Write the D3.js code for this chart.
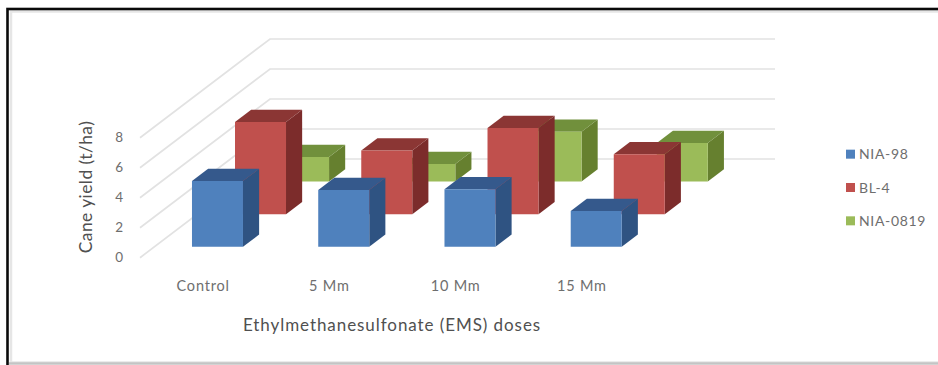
<!DOCTYPE html>
<html>
<head>
<meta charset="utf-8">
<title>Cane yield by EMS dose</title>
<script src="https://cdnjs.cloudflare.com/ajax/libs/d3/7.9.0/d3.min.js"></script>
<style>
  html, body { margin: 0; padding: 0; background: #fff; }
  svg { display: block; font-family: Lato, "Open Sans", sans-serif; }
</style>
</head>
<body>
<svg id="chart" width="938" height="365"></svg>
<script>
// Chart data
const categories = ["Control", "5 Mm", "10 Mm", "15 Mm"];
const seriesNames = ["NIA-98", "BL-4", "NIA-0819"];
const nia98 = [4.38, 3.78, 3.83, 2.38];
const bl4 = [6.15, 4.25, 5.75, 4.0];
const nia0819 = [1.63, 1.16, 3.31, 2.56];
const yTicks = [0, 2, 4, 6, 8];
const xTitle = "Ethylmethanesulfonate (EMS) doses";
const yTitle = "Cane yield (t/ha)";

const seriesValues = { "NIA-98": nia98, "BL-4": bl4, "NIA-0819": nia0819 };
const palette = {
  "NIA-98": { front: "#4f81bd", side: "#2f5382", top: "#35598c" },
  "BL-4": { front: "#c0504d", side: "#7c2c2b", top: "#8b3634" },
  "NIA-0819": { front: "#9bbb59", side: "#66802f", top: "#71903c" }
};

const svg = d3.select("#chart");

// Oblique projection: x across the doses, y up the value axis, depth receding to the back wall
const x = d3.scaleBand().domain(categories).range([140, 645]).paddingInner(0.596).paddingOuter(0.298);
const y = d3.scaleLinear().domain([0, 8]).range([257.7, 137.7]);
const depth = d3.scaleBand().domain(seriesNames).range([0.007, 1]).paddingInner(0.625).paddingOuter(0.3125);
const wall = { dx: 130, dy: -98.7 };

const project = (px, py, t) => [px + wall.dx * t, py + wall.dy * t];
const poly = pts => d3.line()(pts) + "Z";

// Picture frame around the plot
svg.append("rect").attr("x", 11).attr("y", 11.5).attr("width", 940).attr("height", 351)
  .attr("fill", "none").attr("stroke", "#e6e6e6").attr("stroke-width", 2.5);
svg.append("rect").attr("x", 7.5).attr("y", 9).attr("width", 945).attr("height", 370)
  .attr("fill", "none").attr("stroke", "#0a0a0a").attr("stroke-width", 2.6);
svg.append("line").attr("x1", 9).attr("x2", 938).attr("y1", 363.5).attr("y2", 363.5)
  .attr("stroke", "#c4c4c4").attr("stroke-width", 2.4);

// Gridlines: side wall diagonal plus back wall horizontal at every tick
const grid = svg.append("g").attr("fill", "none").attr("stroke", "#e2e2e2").attr("stroke-width", 1.7);
yTicks.forEach(v => {
  const a = [x.range()[0], y(v)];
  const b = project(x.range()[0], y(v), 1);
  const c = project(x.range()[1], y(v), 1);
  grid.append("path").attr("d", d3.line()([a, b, c]));
});

// Bars are painted back to front so nearer series cover farther ones
const bars = svg.append("g");
seriesNames.slice().reverse().forEach(name => {
  const t0 = depth(name), t1 = t0 + depth.bandwidth();
  const col = palette[name];
  seriesValues[name].forEach((v, i) => {
    const xl = x(categories[i]), xr = xl + x.bandwidth();
    const yb = y(0), yt = y(v);
    const g = bars.append("g");
    g.append("path").attr("fill", col.side)
      .attr("d", poly([project(xr, yb, t0), project(xr, yb, t1), project(xr, yt, t1), project(xr, yt, t0)]));
    g.append("path").attr("fill", col.top)
      .attr("d", poly([project(xl, yt, t0), project(xr, yt, t0), project(xr, yt, t1), project(xl, yt, t1)]));
    g.append("path").attr("fill", col.front)
      .attr("d", poly([project(xl, yb, t0), project(xr, yb, t0), project(xr, yt, t0), project(xl, yt, t0)]));
  });
});

// Value axis
const yAxis = svg.append("g").attr("transform", "translate(123,-0.7)")
  .call(d3.axisLeft(y).tickValues(yTicks).tickSize(0).tickPadding(0));
yAxis.select(".domain").remove();
yAxis.selectAll("text").attr("font-size", 13.5).attr("fill", "#6e6e6e").attr("font-family", "Lato, sans-serif");

// Dose axis
const xAxis = svg.append("g").attr("transform", "translate(0,281)")
  .call(d3.axisBottom(x).tickSize(0).tickPadding(0));
xAxis.select(".domain").remove();
xAxis.selectAll("text").attr("font-size", 14.5).attr("fill", "#6e6e6e").attr("letter-spacing", 0.8)
  .attr("font-family", "Lato, sans-serif");

// Axis titles
svg.append("text").attr("x", 392).attr("y", 331).attr("text-anchor", "middle")
  .attr("font-size", 17).attr("fill", "#505050").attr("letter-spacing", 0.93).text(xTitle);
svg.append("text").attr("transform", "translate(92,187) rotate(-90)").attr("text-anchor", "middle")
  .attr("font-size", 17.5).attr("fill", "#505050").attr("letter-spacing", 0.4).text(yTitle);

// Legend
const legend = d3.scaleBand().domain(seriesNames).range([137.5, 237.5]);
seriesNames.forEach(name => {
  const cy = legend(name) + legend.bandwidth() / 2;
  svg.append("rect").attr("x", 846).attr("y", cy - 4.5).attr("width", 9).attr("height", 9)
    .attr("fill", palette[name].front);
  svg.append("text").attr("x", 859).attr("y", cy + 5).attr("font-size", 14)
    .attr("fill", "#6e6e6e").attr("letter-spacing", 0.65).text(name);
});
</script>
</body>
</html>
